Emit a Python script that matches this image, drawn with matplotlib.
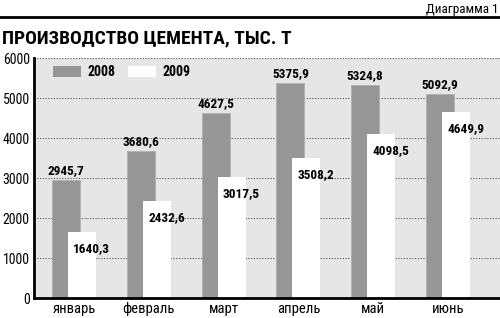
import numpy as np
import matplotlib
matplotlib.use("Agg")
import matplotlib.pyplot as plt
from matplotlib.lines import Line2D
from matplotlib.patches import Patch

months = ["январь", "февраль", "март", "апрель", "май", "июнь"]
vals_2008 = [2945.7, 3680.6, 4627.5, 5375.9, 5324.8, 5092.9]
vals_2009 = [1640.3, 2432.6, 3017.5, 3508.2, 4098.5, 4649.9]
yticks = [0, 1000, 2000, 3000, 4000, 5000, 6000]

NARROW = ["Roboto Condensed", "DejaVu Sans"]
GRAY = "#969696"
BG = "#e6e6e6"

plt.rcParams["font.family"] = NARROW

fig = plt.figure(figsize=(5, 3.18), dpi=100)
ax = fig.add_axes([34 / 500, 20 / 318, 466 / 500, 240 / 318])
ax.set_facecolor(BG)

x = np.arange(len(months))
w = 0.374
off = 0.107
ax.bar(x - off, vals_2008, width=w, color=GRAY, edgecolor="#b0b0b0", linewidth=0.6, zorder=2)
ax.bar(x + off, vals_2009, width=w, color="white", zorder=3)

fmt = lambda v: f"{v:.1f}".replace(".", ",")
for xi, v in zip(x, vals_2008):
    ax.annotate(fmt(v), (xi - off, v), xytext=(0, 2), textcoords="offset points",
                ha="center", va="bottom", fontsize=9.5, fontweight="bold", zorder=5)
for xi, v in zip(x, vals_2009):
    ax.annotate(fmt(v), (xi + off, v), xytext=(7, -12), textcoords="offset points",
                ha="center", va="center", fontsize=9.5, fontweight="bold", zorder=5)

ax.set_xlim(-0.535, 5.695)
ax.set_ylim(0, 6000)
ax.set_yticks(yticks)
ax.set_xticks(x)
ax.set_xticklabels(months)
ax.tick_params(axis="y", length=0, labelsize=10, pad=3)
ax.tick_params(axis="x", length=0, labelsize=10.5, pad=3)
ax.yaxis.grid(True, linestyle=(0, (1, 1.5)), color="#555555", linewidth=0.8, zorder=1)
ax.set_axisbelow(True)
for s in ["top", "right"]:
    ax.spines[s].set_visible(False)
for s in ["left", "bottom"]:
    ax.spines[s].set_linewidth(2)
    ax.spines[s].set_zorder(6)

handles = [Patch(facecolor=GRAY, edgecolor="none"), Patch(facecolor="white", edgecolor="none")]
ax.legend(handles, ["2008", "2009"], loc="upper left", bbox_to_anchor=(0.041, 0.971),
          ncol=2, frameon=False, borderpad=0, borderaxespad=0,
          handlelength=2.0, handleheight=0.85, handletextpad=0.45, columnspacing=0.95,
          prop={"family": NARROW, "weight": "bold", "size": 10})

fig.text(2 / 500, 1 - 38 / 318, "ПРОИЗВОДСТВО ЦЕМЕНТА, ТЫС. Т", ha="left", va="center",
         fontsize=14, fontweight="heavy")
fig.text(498 / 500, 1 - 9 / 318, "Диаграмма 1", ha="right", va="center", fontsize=9.5)
fig.add_artist(Line2D([0, 1], [1 - 17 / 318] * 2, color="black", linewidth=2,
                      transform=fig.transFigure))

fig.savefig("out.png", dpi=100)
